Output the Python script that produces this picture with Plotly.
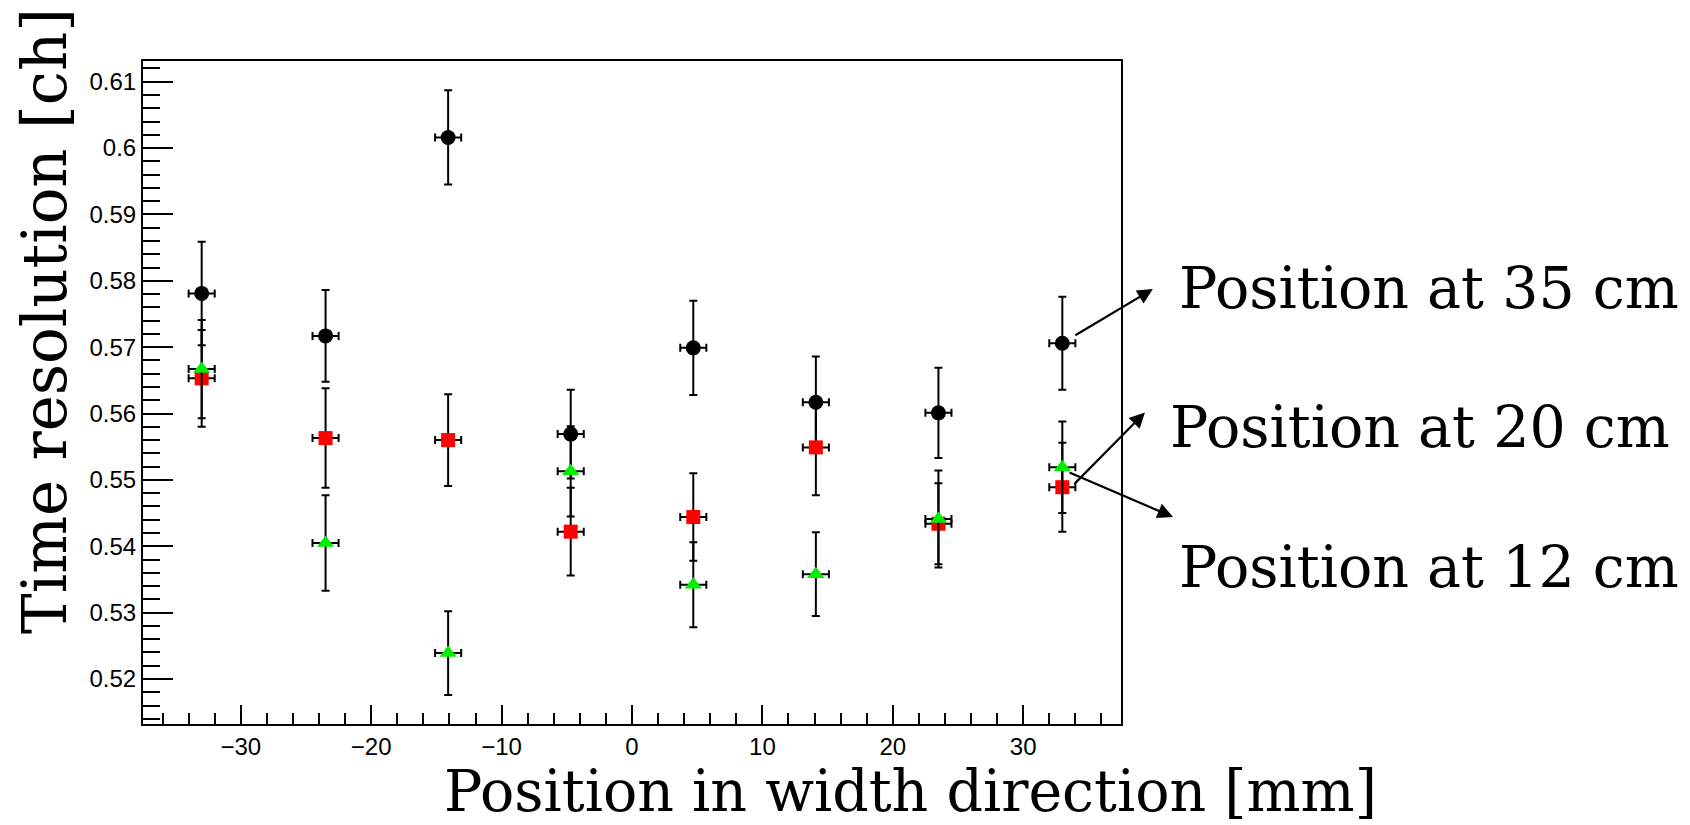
import plotly.graph_objects as go

# Scan positions across the bar width [mm]
position_mm = [-33.0, -23.5, -14.1, -4.7, 4.7, 14.1, 23.5, 33.0]
position_err = [1.0, 1.0, 1.0, 1.0, 1.0, 1.0, 1.0, 1.0]

# Time resolution [ch] at three positions along the bar
res_35cm = [0.5781, 0.5717, 0.6016, 0.5569, 0.5699, 0.5617, 0.5601, 0.5706]
err_35cm = [0.0078, 0.0069, 0.0071, 0.0067, 0.0071, 0.0069, 0.0068, 0.0070]

res_20cm = [0.5653, 0.5563, 0.5560, 0.5422, 0.5444, 0.5549, 0.5434, 0.5489]
err_20cm = [0.0073, 0.0075, 0.0069, 0.0066, 0.0066, 0.0072, 0.0061, 0.0067]

res_12cm = [0.5667, 0.5405, 0.5239, 0.5513, 0.5342, 0.5358, 0.5441, 0.5519]
err_12cm = [0.0074, 0.0072, 0.0063, 0.0068, 0.0064, 0.0063, 0.0073, 0.0069]

labels = ["Position at 35 cm", "Position at 20 cm", "Position at 12 cm"]

# Figure geometry (pixels)
W, H = 1690, 825
ML, MR, MT, MB = 143, 569, 61, 101
PW, PH = W - ML - MR, H - MT - MB

X_RANGE = [-37.5, 37.5]
Y_RANGE = [0.51322, 0.61312]

LABEL_FONT = dict(family="DejaVu Serif", size=57, color="black")
XTITLE_FONT = dict(family="DejaVu Serif", size=57, color="black")
YTITLE_FONT = dict(family="DejaVu Serif", size=61, color="black")
TICK_FONT = dict(family="Liberation Sans, Arial, sans-serif", size=24, color="black")


def px_to_paper(px, py):
    return (px - ML) / PW, (H - MB - py) / PH


def err_style(arr, width):
    return dict(type="data", array=arr, visible=True, color="black",
                thickness=2, width=width)


fig = go.Figure()

series = [
    (res_35cm, err_35cm, dict(symbol="circle", size=15, color="black")),
    (res_20cm, err_20cm, dict(symbol="square", size=14, color="#ff0000")),
    (res_12cm, err_12cm, dict(symbol="triangle-up", size=15, color="#00ee00")),
]
for (vals, errs, marker), name in zip(series, labels):
    fig.add_trace(go.Scatter(
        x=position_mm, y=vals, mode="markers", name=name,
        marker=dict(line=dict(width=0), **marker),
        error_y=err_style(errs, 4),
        error_x=err_style(position_err, 4),
        showlegend=False,
    ))

axis_common = dict(
    showline=True, linecolor="black", linewidth=2, mirror=True,
    showgrid=False, zeroline=False, ticks="inside", tickcolor="black",
    tickwidth=2, tickfont=TICK_FONT,
)

fig.update_xaxes(range=X_RANGE, tick0=0, dtick=10, ticklen=19,
                 minor=dict(ticks="inside", dtick=2, ticklen=11, tickwidth=2,
                            tickcolor="black", showgrid=False),
                 **axis_common)
fig.update_yaxes(range=Y_RANGE, tick0=0.5, dtick=0.01, ticklen=30,
                 minor=dict(ticks="inside", dtick=0.002, ticklen=17, tickwidth=2,
                            tickcolor="black", showgrid=False),
                 **axis_common)

annotations = []

# Axis titles
tx, ty = px_to_paper(910, 825)
annotations.append(dict(text="Position in width direction [mm]", xref="paper", yref="paper",
                        x=tx, y=ty, xanchor="center", yanchor="bottom",
                        showarrow=False, font=XTITLE_FONT, borderpad=0))
tx, ty = px_to_paper(44, 321)
annotations.append(dict(text="Time resolution [ch]", xref="paper", yref="paper",
                        x=tx, y=ty, xanchor="center", yanchor="middle", textangle=-90,
                        showarrow=False, font=YTITLE_FONT))

# Series labels to the right of the frame
label_px = [(1177, 288), (1168, 427), (1177, 567)]
for text, (lx, ly) in zip(labels, label_px):
    px, py = px_to_paper(lx, ly)
    annotations.append(dict(text=text, xref="paper", yref="paper", x=px, y=py,
                            xanchor="left", yanchor="middle", showarrow=False,
                            font=LABEL_FONT))

# Pointer arrows from the last point of each series to its label
arrow_tails = [(34.0, 0.5718), (33.93, 0.5494), (33.55, 0.5511)]
arrow_heads = [(79, -47), (72, -73), (105, 45)]
for (axv, ayv), (dx, dy) in zip(arrow_tails, arrow_heads):
    annotations.append(dict(text="", xref="x", yref="y", x=axv, y=ayv,
                            ax=dx, ay=dy, axref="pixel", ayref="pixel",
                            showarrow=True, arrowside="start",
                            startarrowhead=2, startarrowsize=1.4,
                            arrowwidth=2.2, arrowcolor="black",
                            standoff=0, startstandoff=0))

fig.update_layout(
    width=W, height=H,
    margin=dict(l=ML, r=MR, t=MT, b=MB, pad=0),
    paper_bgcolor="white", plot_bgcolor="white",
    annotations=annotations,
)

fig.write_html("out.html")
